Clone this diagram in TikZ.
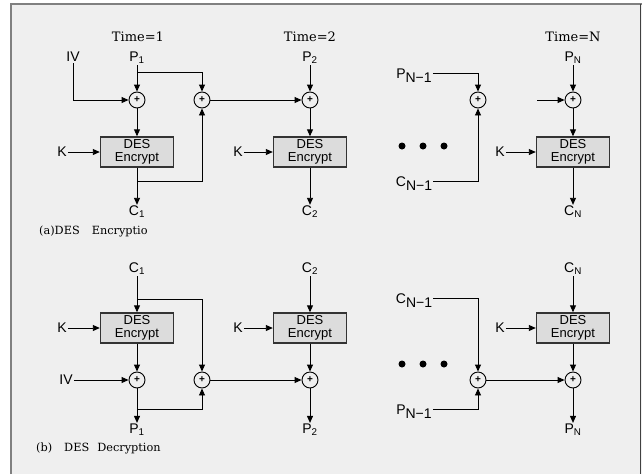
\documentclass[tikz,border=0pt]{standalone}
\usepackage{fontspec}
\setmainfont{DejaVu Serif}
\setsansfont{Liberation Sans}
\usetikzlibrary{arrows.meta, positioning}
\definecolor{panelbg}{HTML}{EFEFEF}
\definecolor{boxfill}{HTML}{DCDCDC}
\tikzset{
	flow/.style={-{Triangle[length=7pt, width=6pt]}, line width=0.9pt},
	wire/.style={line width=0.9pt},
	desbox/.style={draw=black!80, line width=1.4pt, fill=boxfill, minimum width=73pt, minimum height=30pt, inner sep=0pt, align=center, font=\sffamily\fontsize{13}{13}\selectfont},
	xorop/.style={draw, circle, line width=0.9pt, minimum size=16pt, inner sep=0pt, font=\sffamily\bfseries\fontsize{10}{10}\selectfont},
	lbl/.style={font=\sffamily\fontsize{14}{14}\selectfont, inner sep=1pt},
	ttl/.style={font=\fontsize{13}{13}\selectfont, inner sep=1pt},
	capt/.style={font=\fontsize{11.3}{11.3}\selectfont, anchor=west, inner sep=0pt},
}

\begin{document}
\begin{tikzpicture}[x=1pt, y=-1pt]
	\useasboundingbox (0,0) rectangle (642,474);
	\fill[panelbg] (11,4) rectangle (642,474);
	\draw[gray, line width=1.5pt] (11,474) -- (11,4) -- (642,4);
	\draw[black!75, line width=1.5pt] (640.5,4) -- (640.5,474);

	% (a) encryption
	\node[ttl] (t1) at (138,37) {Time=1};
	\node[ttl] (t2) at (310,37) {Time=2};
	\node[ttl] (tn) at (573,37) {Time=N};

	\node[lbl] (iva) at (73,57) {IV};
	\node[lbl] (pa1) at (137,58) {P\textsubscript{1}};
	\node[xorop] (xa1) at (137,100) {+};
	\node[xorop] (xa2) at (202,100) {+};
	\node[desbox] (ea1) at (137,152) {DES\\Encrypt};
	\node[lbl] (ka1) at (62,152) {K};
	\node[lbl] (ca1) at (137,212) {C\textsubscript{1}};
	\coordinate (ba1) at (137,72);
	\coordinate (bb1) at (137,181);

	\node[lbl] (pa2) at (310,58) {P\textsubscript{2}};
	\node[xorop] (xa3) at (310,100) {+};
	\node[desbox] (ea2) at (310,152) {DES\\Encrypt};
	\node[lbl] (ka2) at (238,152) {K};
	\node[lbl] (ca2) at (310,212) {C\textsubscript{2}};

	\node[lbl] (pna1) at (414,76) {P\raisebox{-4pt}{N−1}};
	\node[lbl] (cna1) at (414,184) {C\raisebox{-4pt}{N−1}};
	\node[xorop] (xan1) at (478,100) {+};
	\node[lbl] (pan) at (573,58) {P\textsubscript{N}};
	\node[xorop] (xan) at (573,100) {+};
	\coordinate (inn) at (537,100);
	\node[desbox] (ean) at (573,152) {DES\\Encrypt};
	\node[lbl] (kan) at (500,152) {K};
	\node[lbl] (can) at (573,212) {C\textsubscript{N}};

	\draw[flow] (pa1) -- (xa1);
	\draw[flow] (iva) |- (xa1);
	\draw[flow] (xa1) -- (ea1);
	\draw[flow] (ka1) -- (ea1);
	\draw[flow] (ea1) -- (ca1);
	\draw[flow] (ba1) -| (xa2);
	\draw[flow] (bb1) -| (xa2);
	\draw[flow] (xa2) -- (xa3);
	\draw[flow] (pa2) -- (xa3);
	\draw[flow] (xa3) -- (ea2);
	\draw[flow] (ka2) -- (ea2);
	\draw[flow] (ea2) -- (ca2);
	\draw[flow] ([yshift=3pt]pna1.east) -| (xan1);
	\draw[flow] ([yshift=3pt]cna1.east) -| (xan1);
	\draw[flow] (pan) -- (xan);
	\draw[flow] (inn) -- (xan);
	\draw[flow] (xan) -- (ean);
	\draw[flow] (kan) -- (ean);
	\draw[flow] (ean) -- (can);
	\foreach \x in {402,423,444}
		\fill (\x,146) circle (3.5pt);

	\node[capt] (capa) at (39,231) {(a)DES\hspace{12pt}Encryptio};

	% (b) decryption
	\node[lbl] (cb1) at (137,269) {C\textsubscript{1}};
	\node[desbox] (eb1) at (137,328) {DES\\Encrypt};
	\node[lbl] (kb1) at (62,328) {K};
	\node[lbl] (ivb) at (66,380) {IV};
	\node[xorop] (xb1) at (137,380) {+};
	\node[xorop] (xb2) at (202,380) {+};
	\node[lbl] (pb1) at (137,430) {P\textsubscript{1}};
	\coordinate (bc1) at (137,299);
	\coordinate (bd1) at (137,409);

	\node[lbl] (cb2) at (310,269) {C\textsubscript{2}};
	\node[desbox] (eb2) at (310,328) {DES\\Encrypt};
	\node[lbl] (kb2) at (238,328) {K};
	\node[xorop] (xb3) at (310,380) {+};
	\node[lbl] (pb2) at (310,430) {P\textsubscript{2}};

	\node[lbl] (cnb1) at (414,301) {C\raisebox{-4pt}{N−1}};
	\node[lbl] (pnb1) at (414,412) {P\raisebox{-4pt}{N−1}};
	\node[xorop] (xbn1) at (478,380) {+};
	\node[lbl] (cbn) at (573,269) {C\textsubscript{N}};
	\node[desbox] (ebn) at (573,328) {DES\\Encrypt};
	\node[lbl] (kbn) at (500,328) {K};
	\node[xorop] (xbn) at (573,380) {+};
	\node[lbl] (pbn) at (573,430) {P\textsubscript{N}};

	\draw[flow] (cb1) -- (eb1);
	\draw[flow] (kb1) -- (eb1);
	\draw[flow] (eb1) -- (xb1);
	\draw[flow] (ivb) -- (xb1);
	\draw[flow] (xb1) -- (pb1);
	\draw[flow] (bc1) -| (xb2);
	\draw[flow] (bd1) -| (xb2);
	\draw[flow] (xb2) -- (xb3);
	\draw[flow] (cb2) -- (eb2);
	\draw[flow] (kb2) -- (eb2);
	\draw[flow] (eb2) -- (xb3);
	\draw[flow] (xb3) -- (pb2);
	\draw[flow] ([yshift=3pt]cnb1.east) -| (xbn1);
	\draw[flow] ([yshift=3pt]pnb1.east) -| (xbn1);
	\draw[flow] (xbn1) -- (xbn);
	\draw[flow] (cbn) -- (ebn);
	\draw[flow] (kbn) -- (ebn);
	\draw[flow] (ebn) -- (xbn);
	\draw[flow] (xbn) -- (pbn);
	\foreach \x in {402,423,444}
		\fill (\x,364) circle (3.5pt);

	\node[capt] (capb) at (36,448) {(b)\hspace{12pt}DES\hspace{8pt}Decryption};
\end{tikzpicture}
\end{document}
